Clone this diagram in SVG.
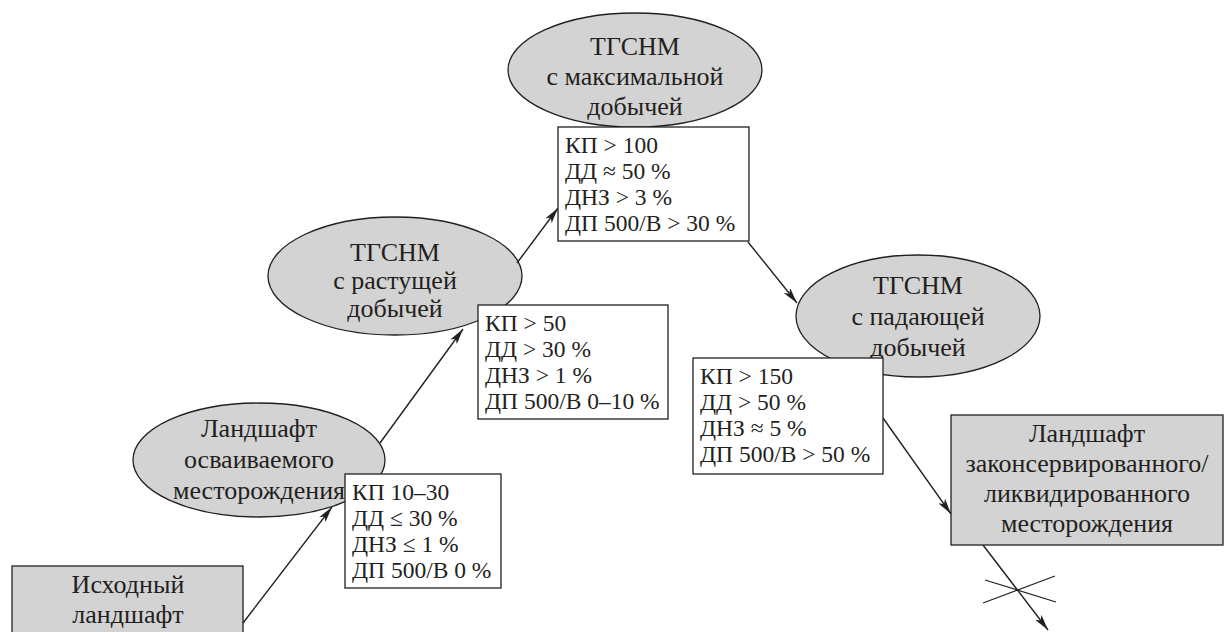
<svg xmlns="http://www.w3.org/2000/svg" width="1225" height="632" viewBox="0 0 1225 632">
<defs>
<style>
.bg{fill:#ffffff}
.stage{fill:#d3d3d3;stroke:#231f20;stroke-width:1.3}
.crit{fill:#ffffff;stroke:#231f20;stroke-width:1.3}
.lbl{font-family:"Liberation Serif","Times New Roman",serif;font-size:26px;fill:#231f20;text-anchor:middle}
.txt{font-family:"Liberation Serif","Times New Roman",serif;font-size:23.5px;fill:#231f20}
.edge{fill:none;stroke:#231f20;stroke-width:1.4}
.cross{fill:none;stroke:#231f20;stroke-width:1.2}
</style>
<marker id="arr" viewBox="0 0 16 8" refX="16" refY="4" markerWidth="16" markerHeight="8" markerUnits="userSpaceOnUse" orient="auto">
<path d="M0,0 L16,4 L0,8 L4,4 Z" fill="#231f20"/>
</marker>
</defs>
<rect class="bg" x="0" y="0" width="1225" height="632"/>

<g id="node-initial">
<rect class="stage" x="12" y="566" width="231" height="80"/>
<text class="lbl" x="128" y="593">Исходный</text>
<text class="lbl" x="128" y="623">ландшафт</text>
</g>

<g id="node-developing">
<ellipse class="stage" cx="259" cy="460" rx="126" ry="57"/>
<text class="lbl" x="259" y="437">Ландшафт</text>
<text class="lbl" x="259" y="468">осваиваемого</text>
<text class="lbl" x="259" y="499">месторождения</text>
</g>

<g id="node-growing">
<ellipse class="stage" cx="395" cy="276" rx="127" ry="59"/>
<text class="lbl" x="395" y="261">ТГСНМ</text>
<text class="lbl" x="395" y="289">с растущей</text>
<text class="lbl" x="395" y="317">добычей</text>
</g>

<g id="node-maximal">
<ellipse class="stage" cx="635" cy="70" rx="127" ry="57"/>
<text class="lbl" x="635" y="55">ТГСНМ</text>
<text class="lbl" x="635" y="85">с максимальной</text>
<text class="lbl" x="635" y="115">добычей</text>
</g>

<g id="node-falling">
<ellipse class="stage" cx="918" cy="316" rx="122" ry="61"/>
<text class="lbl" x="918" y="294">ТГСНМ</text>
<text class="lbl" x="918" y="325">с падающей</text>
<text class="lbl" x="918" y="356">добычей</text>
</g>

<g id="connectors">
<line class="edge" x1="243" y1="623" x2="332" y2="507" marker-end="url(#arr)"/>
<line class="edge" x1="380" y1="443" x2="463" y2="329" marker-end="url(#arr)"/>
<line class="edge" x1="517" y1="263" x2="558" y2="208" marker-end="url(#arr)"/>
<line class="edge" x1="748" y1="242" x2="797" y2="303" marker-end="url(#arr)"/>
<line class="edge" x1="883" y1="418" x2="951" y2="514" marker-end="url(#arr)"/>
<line class="edge" x1="983" y1="545" x2="1048" y2="630" marker-end="url(#arr)"/>
<line class="cross" x1="985" y1="580" x2="1056" y2="602"/>
<line class="cross" x1="983" y1="603" x2="1055" y2="576"/>
</g>

<g id="criteria-developing">
<rect class="crit" x="345" y="474" width="156" height="114"/>
<text class="txt" x="352" y="500">КП 10–30</text>
<text class="txt" x="352" y="526">ДД ≤ 30 %</text>
<text class="txt" x="352" y="552">ДНЗ ≤ 1 %</text>
<text class="txt" x="352" y="578">ДП 500/В 0 %</text>
</g>

<g id="criteria-growing">
<rect class="crit" x="478" y="305" width="190" height="114"/>
<text class="txt" x="485" y="331">КП &gt; 50</text>
<text class="txt" x="485" y="357">ДД &gt; 30 %</text>
<text class="txt" x="485" y="383">ДНЗ &gt; 1 %</text>
<text class="txt" x="485" y="409">ДП 500/В 0–10 %</text>
</g>

<g id="criteria-maximal">
<rect class="crit" x="558" y="127" width="191" height="114"/>
<text class="txt" x="565" y="153">КП &gt; 100</text>
<text class="txt" x="565" y="179">ДД ≈ 50 %</text>
<text class="txt" x="565" y="205">ДНЗ &gt; 3 %</text>
<text class="txt" x="565" y="231">ДП 500/В &gt; 30 %</text>
</g>

<g id="criteria-falling">
<rect class="crit" x="693" y="358" width="190" height="116"/>
<text class="txt" x="700" y="384">КП &gt; 150</text>
<text class="txt" x="700" y="410">ДД &gt; 50 %</text>
<text class="txt" x="700" y="436">ДНЗ ≈ 5 %</text>
<text class="txt" x="700" y="462">ДП 500/В &gt; 50 %</text>
</g>

<g id="node-closed">
<rect class="stage" x="951" y="415" width="272" height="130"/>
<text class="lbl" x="1087" y="442">Ландшафт</text>
<text class="lbl" x="1087" y="472">законсервированного/</text>
<text class="lbl" x="1087" y="502">ликвидированного</text>
<text class="lbl" x="1087" y="532">месторождения</text>
</g>
</svg>
